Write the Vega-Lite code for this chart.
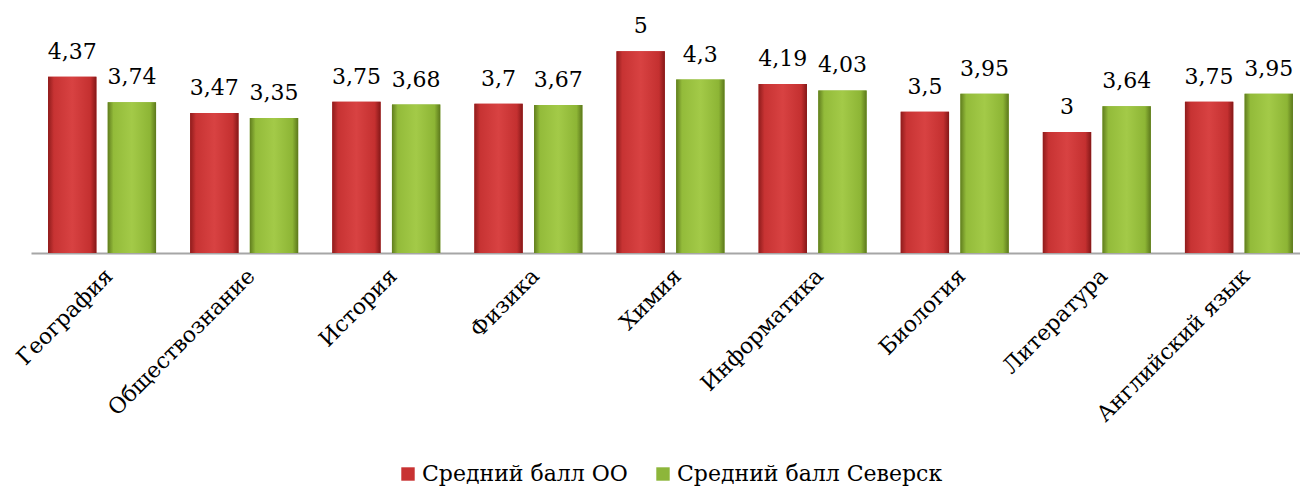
{
  "$schema": "https://vega.github.io/schema/vega-lite/v6.json",
  "autosize": {"type": "none"},
  "width": 1269,
  "height": 242,
  "padding": {"left": 31, "top": 11, "right": 0, "bottom": 233},
  "background": "white",
  "config": {
    "view": {"stroke": null},
    "font": "DejaVu Serif",
    "locale": {"number": {"decimal": ",", "thousands": " ", "grouping": [3], "currency": ["", ""]}}
  },
  "data": {
    "values": [
      {"subject": "География", "series": "Средний балл ОО", "value": 4.37},
      {"subject": "География", "series": "Средний балл Северск", "value": 3.74},
      {"subject": "Обществознание", "series": "Средний балл ОО", "value": 3.47},
      {"subject": "Обществознание", "series": "Средний балл Северск", "value": 3.35},
      {"subject": "История", "series": "Средний балл ОО", "value": 3.75},
      {"subject": "История", "series": "Средний балл Северск", "value": 3.68},
      {"subject": "Физика", "series": "Средний балл ОО", "value": 3.7},
      {"subject": "Физика", "series": "Средний балл Северск", "value": 3.67},
      {"subject": "Химия", "series": "Средний балл ОО", "value": 5},
      {"subject": "Химия", "series": "Средний балл Северск", "value": 4.3},
      {"subject": "Информатика", "series": "Средний балл ОО", "value": 4.19},
      {"subject": "Информатика", "series": "Средний балл Северск", "value": 4.03},
      {"subject": "Биология", "series": "Средний балл ОО", "value": 3.5},
      {"subject": "Биология", "series": "Средний балл Северск", "value": 3.95},
      {"subject": "Литература", "series": "Средний балл ОО", "value": 3},
      {"subject": "Литература", "series": "Средний балл Северск", "value": 3.64},
      {"subject": "Английский язык", "series": "Средний балл ОО", "value": 3.75},
      {"subject": "Английский язык", "series": "Средний балл Северск", "value": 3.95}
    ]
  },
  "encoding": {
    "x": {
      "field": "subject", "type": "nominal", "sort": null,
      "scale": {"range": [0, 1279], "paddingInner": 0.24, "paddingOuter": 0.12},
      "axis": {
        "title": null, "labelAngle": -45, "labelFontSize": 22, "labelColor": "#000000",
        "labelFont": "DejaVu Serif", "ticks": false, "labelPadding": 12,
        "domainColor": "#a6a6a6", "domainWidth": 2, "labelOverlap": false, "labelLimit": 400
      }
    },
    "xOffset": {"field": "series", "type": "nominal", "sort": null, "scale": {"paddingInner": 0.19, "paddingOuter": 0}},
    "y": {"field": "value", "type": "quantitative", "scale": {"domain": [0, 6], "nice": false}, "axis": null}
  },
  "layer": [
    {
      "mark": {"type": "bar"},
      "encoding": {
        "color": {
          "field": "series", "type": "nominal", "sort": null,
          "scale": {"range": ["#c83232", "#8db63a"]},
          "legend": {
            "title": null, "orient": "none", "direction": "horizontal",
            "legendX": 366, "legendY": 452,
            "labelFont": "DejaVu Serif", "labelFontSize": 22, "labelColor": "#000000",
            "labelLimit": 400,
            "symbolType": "square", "symbolSize": 180, "symbolStrokeWidth": 0,
            "columnPadding": 24, "labelOffset": 3
          }
        }
      }
    },
    {
      "transform": [{"filter": "datum.series === 'Средний балл ОО'"}],
      "mark": {
        "type": "bar",
        "fill": {"gradient": "linear", "x1": 0, "x2": 1, "y1": 0, "y2": 0,
          "stops": [
            {"offset": 0, "color": "#8f1c1c"},
            {"offset": 0.12, "color": "#c73333"},
            {"offset": 0.5, "color": "#d84242"},
            {"offset": 0.88, "color": "#c43030"},
            {"offset": 1, "color": "#841818"}
          ]}
      }
    },
    {
      "transform": [{"filter": "datum.series === 'Средний балл Северск'"}],
      "mark": {
        "type": "bar",
        "fill": {"gradient": "linear", "x1": 0, "x2": 1, "y1": 0, "y2": 0,
          "stops": [
            {"offset": 0, "color": "#607d1e"},
            {"offset": 0.12, "color": "#93bb3a"},
            {"offset": 0.5, "color": "#a3ca48"},
            {"offset": 0.88, "color": "#8db535"},
            {"offset": 1, "color": "#5c781c"}
          ]}
      }
    },
    {
      "mark": {"type": "text", "baseline": "alphabetic", "dy": -18, "fontSize": 22, "font": "DejaVu Serif", "color": "#000000"},
      "encoding": {
        "text": {"field": "value", "type": "quantitative", "format": ".2~f"}
      }
    }
  ]
}
